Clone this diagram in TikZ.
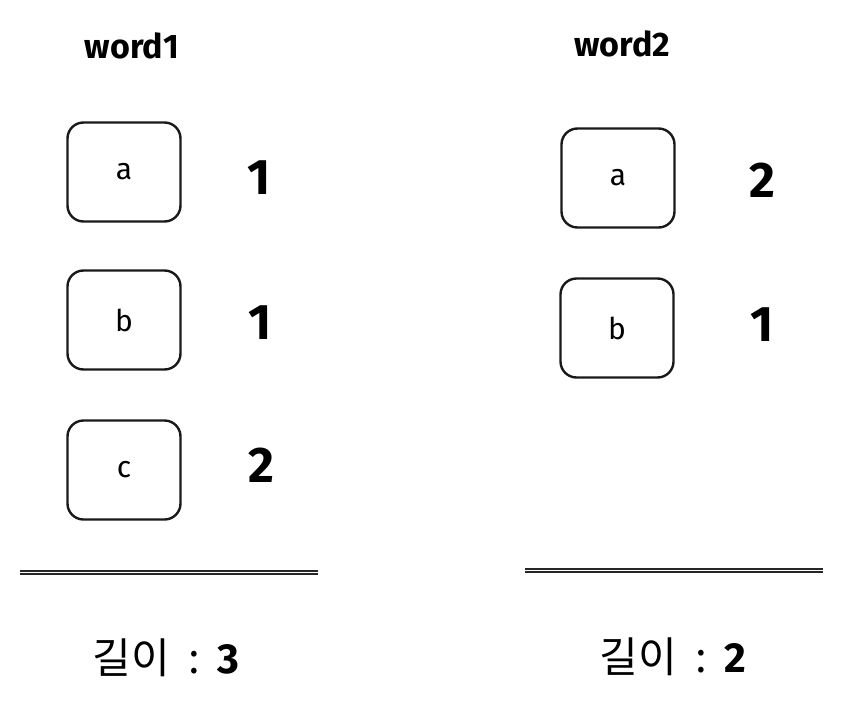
\documentclass[tikz,border=0pt]{standalone}
\usepackage{fontspec}
\setmainfont{Fira Sans}
\newfontfamily\krfont{Noto Sans CJK KR}
\begin{document}
\begin{tikzpicture}[x=1pt,y=-1pt,
  cell/.style={draw=black!90,line width=2.4pt,rounded corners=16pt,minimum width=113pt,minimum height=99pt,inner sep=0pt,font=\fontsize{30}{32}\selectfont},
  title/.style={font=\fontsize{34}{38}\selectfont\bfseries},
  count/.style={font=\fontsize{50}{52}\selectfont\bfseries},
  total/.style={font=\fontsize{42}{46}\selectfont\krfont},
  rule/.style={line width=1.8pt,black!85}]
\useasboundingbox (0,0) rectangle (843,704);
% left column
\node[title] (w1) at (132,46) {word1};
\node[cell] (a1) at (124,172) {a};
\node[cell] (b1) at (124,320) {b};
\node[cell] (c1) at (124,470) {c};
\node[count] (n1) at (259,178) {1};
\node[count] (n2) at (260,323) {1};
\node[count] (n3) at (261,465) {2};
\coordinate (l1a) at (20,571);
\coordinate (l1b) at (318,571);
\coordinate (l1c) at (20,574);
\coordinate (l1d) at (318,574);
\draw[rule] (l1a) -- (l1b);
\draw[rule] (l1c) -- (l1d);
\node[total] (t1) at (166,658) {길이\hspace{0.45em}:\hspace{0.4em}{\rmfamily\bfseries 3}};
% right column
\node[title] (w2) at (622,44) {word2};
\node[cell] (a2) at (618,178) {a};
\node[cell] (b2) at (617,328) {b};
\node[count] (m1) at (762,180) {2};
\node[count] (m2) at (762,325) {1};
\coordinate (l2a) at (525,569);
\coordinate (l2b) at (823,569);
\coordinate (l2c) at (525,572);
\coordinate (l2d) at (823,572);
\draw[rule] (l2a) -- (l2b);
\draw[rule] (l2c) -- (l2d);
\node[total] (t2) at (673,657) {길이\hspace{0.45em}:\hspace{0.4em}{\rmfamily\bfseries 2}};
\end{tikzpicture}
\end{document}
